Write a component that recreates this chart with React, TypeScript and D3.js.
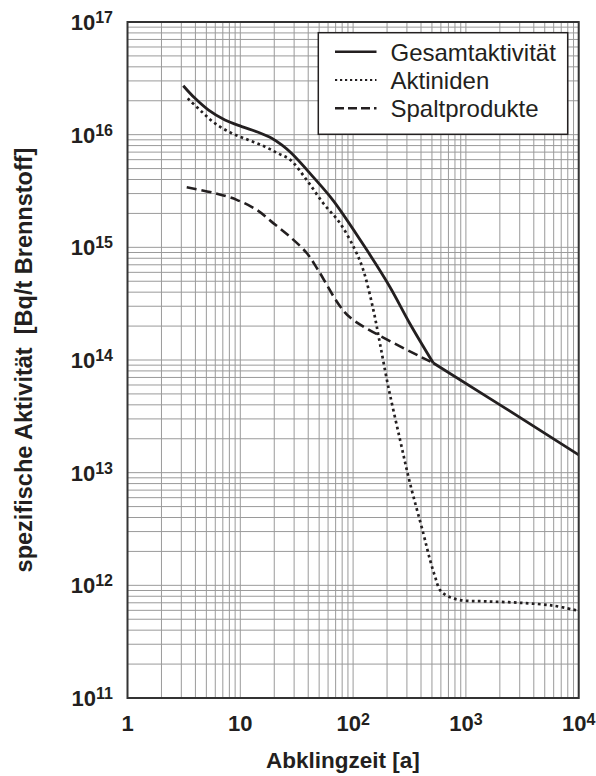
import React, { useEffect, useRef } from 'react';
import * as d3 from 'd3';

// Abklingzeit in Jahren, spezifische Aktivität in Bq/t
const totalYears = [3.12, 3.97, 5.2, 7.31, 10.3, 14.4, 19.0, 23.3, 28.6, 44.4, 66.7, 132, 212, 319, 514, 2004, 10000];
const totalAct = [2.72e16, 2.1e16, 1.66e16, 1.35e16, 1.18e16, 1.05e16, 9.3e15, 8.1e15, 6.8e15, 4.2e15, 2.6e15, 9.5e14, 4.45e14, 2.1e14, 9.4e13, 4.0e13, 1.44e13];
const kinkYear = 514;

const aktYears = [3.42, 4.55, 5.97, 8.39, 11.8, 16.6, 21.7, 27.6, 38.8, 54.4, 76.5, 104, 123, 151, 173, 205, 261, 319, 419, 481, 532, 589, 676, 887, 1528, 3020, 5960, 9500];
const aktAct = [2.1e16, 1.6e16, 1.26e16, 1.03e16, 8.97e15, 7.8e15, 6.8e15, 6.0e15, 3.96e15, 2.46e15, 1.64e15, 9.5e14, 6.3e14, 2.8e14, 1.4e14, 5.8e13, 1.95e13, 8.1e12, 2.9e12, 1.68e12, 1.2e12, 9.1e11, 8.1e11, 7.4e11, 7.2e11, 7.0e11, 6.6e11, 6.0e11];

const spaltYears = [3.35, 5.76, 9.3, 14.0, 19.6, 27.6, 38.8, 48.9, 76.6, 100, 514];
const spaltAct = [3.41e15, 3.05e15, 2.64e15, 2.15e15, 1.64e15, 1.24e15, 8.9e14, 6.3e14, 3.0e14, 2.27e14, 9.4e13];

const xTicks = [1, 10, 100, 1000, 10000];
const xTickExp = ['', '', '2', '3', '4'];
const xTickBase = ['1', '10', '10', '10', '10'];
const yTicks = [1e11, 1e12, 1e13, 1e14, 1e15, 1e16, 1e17];
const yTickExp = ['11', '12', '13', '14', '15', '16', '17'];

const legendNames = ['Gesamtaktivität', 'Aktiniden', 'Spaltprodukte'];
const legendDash = ['none', '2.2,2.8', '9,4'];

export default function App() {
  const ref = useRef<SVGSVGElement>(null);

  useEffect(() => {
    const width = 596;
    const height = 776;
    const left = 127.5, right = 578.7, top = 22, bottom = 698;
    const ink = '#231f20';

    const svg = d3.select(ref.current);
    svg.selectAll('*').remove();
    svg.attr('width', width).attr('height', height);

    const x = d3.scaleLog().domain([1, 1e4]).range([left, right]);
    const y = d3.scaleLog().domain([1e11, 1e17]).range([bottom, top]);

    // Gitter
    const grid = svg.append('g').attr('stroke', '#9a9a9a').attr('stroke-width', 1);
    grid.selectAll('line.vx').data(x.ticks()).join('line')
      .attr('x1', d => x(d)).attr('x2', d => x(d))
      .attr('y1', top).attr('y2', bottom);
    grid.selectAll('line.hy').data(y.ticks()).join('line')
      .attr('x1', left).attr('x2', right)
      .attr('y1', d => y(d)).attr('y2', d => y(d));

    const pts = (ts: number[], as: number[]) => ts.map((t, i) => [t, as[i]] as [number, number]);
    const smooth = d3.line<[number, number]>().x(d => x(d[0])).y(d => y(d[1])).curve(d3.curveCatmullRom.alpha(0.5));
    const straight = d3.line<[number, number]>().x(d => x(d[0])).y(d => y(d[1]));

    const lines = svg.append('g').attr('fill', 'none').attr('stroke', ink);

    lines.append('path')
      .attr('d', smooth(pts(spaltYears, spaltAct)))
      .attr('stroke-width', 2.6)
      .attr('stroke-dasharray', '10,5');

    lines.append('path')
      .attr('d', smooth(pts(aktYears, aktAct)))
      .attr('stroke-width', 2.7)
      .attr('stroke-dasharray', '2.7,3.3');

    const total = pts(totalYears, totalAct);
    const k = totalYears.indexOf(kinkYear);
    lines.append('path')
      .attr('d', smooth(total.slice(0, k + 1)))
      .attr('stroke-width', 2.8);
    lines.append('path')
      .attr('d', straight(total.slice(k)))
      .attr('stroke-width', 2.8);

    // Rahmen
    svg.append('rect')
      .attr('x', left).attr('y', top)
      .attr('width', right - left).attr('height', bottom - top)
      .attr('fill', 'none').attr('stroke', '#333').attr('stroke-width', 2);

    const font = 'Liberation Sans, Arial, Helvetica, sans-serif';

    // x Beschriftung
    const xl = svg.append('g').attr('font-family', font).attr('font-weight', 'bold').attr('fill', ink);
    xTicks.forEach((t, i) => {
      const tx = xl.append('text')
        .attr('x', x(t)).attr('y', 731)
        .attr('text-anchor', 'middle')
        .attr('font-size', 22);
      tx.append('tspan').text(xTickBase[i]);
      if (xTickExp[i]) tx.append('tspan').attr('dy', -6).attr('font-size', 16).text(xTickExp[i]);
    });
    xl.append('text')
      .attr('x', 343).attr('y', 768)
      .attr('text-anchor', 'middle')
      .attr('font-size', 22.5)
      .text('Abklingzeit [a]');

    // y Beschriftung
    const yl = svg.append('g').attr('font-family', font).attr('font-weight', 'bold').attr('fill', ink);
    yTicks.forEach((t, i) => {
      const tx = yl.append('text')
        .attr('x', 113).attr('y', y(t) + 8)
        .attr('text-anchor', 'end')
        .attr('font-size', 22);
      tx.append('tspan').text('10');
      tx.append('tspan').attr('dy', -7).attr('font-size', 16).text(yTickExp[i]);
    });
    yl.append('text')
      .attr('transform', `translate(32,${(top + bottom) / 2}) rotate(-90)`)
      .attr('text-anchor', 'middle')
      .attr('font-size', 23.5)
      .style('white-space', 'pre')
      .text('spezifische Aktivität  [Bq/t Brennstoff]');

    // Legende
    const lg = svg.append('g');
    lg.append('rect')
      .attr('x', 318.3).attr('y', 32.7)
      .attr('width', 249.4).attr('height', 101.6)
      .attr('fill', 'white').attr('stroke', ink).attr('stroke-width', 1.5);
    legendNames.forEach((name, i) => {
      const ly = 51.7 + i * 28.3;
      lg.append('line')
        .attr('x1', 335).attr('x2', 376.5)
        .attr('y1', ly).attr('y2', ly)
        .attr('stroke', ink)
        .attr('stroke-width', i == 1 ? 2 : 2.6)
        .attr('stroke-dasharray', legendDash[i]);
      lg.append('text')
        .attr('x', 390.5).attr('y', ly + 9)
        .attr('font-family', font)
        .attr('font-size', 24)
        .attr('fill', ink)
        .text(name);
    });
  }, []);

  return <svg ref={ref} style={{ position: 'absolute', left: 0, top: 0 }}></svg>;
}
